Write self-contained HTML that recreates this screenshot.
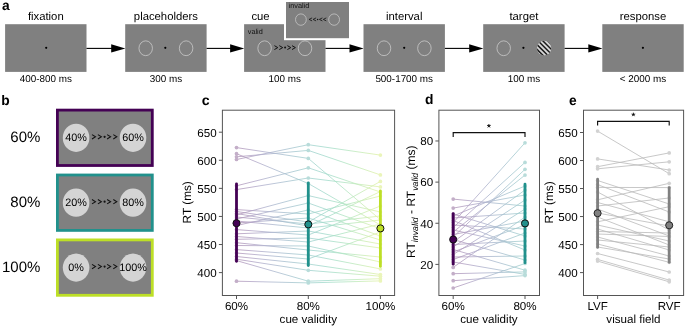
<!DOCTYPE html>
<html><head><meta charset="utf-8"><style>
html,body{margin:0;padding:0;background:#fff;}
body{width:685px;height:327px;overflow:hidden;}
svg{display:block;font-family:"Liberation Sans", sans-serif;will-change:transform;text-rendering:geometricPrecision;}
</style></head><body>
<svg width="685" height="327" viewBox="0 0 685 327">
<rect width="685" height="327" fill="#fff"/>
<text x="2" y="10" font-size="13.8" text-anchor="start" font-weight="bold" fill="#000">a</text>
<rect x="5.1" y="24.2" width="81.4" height="47.7" fill="#808080"/>
<text x="45.8" y="19.6" font-size="11.3" text-anchor="middle" fill="#000">fixation</text>
<text x="45.8" y="82.3" font-size="9.9" text-anchor="middle" fill="#000">400-800 ms</text>
<circle cx="46.2" cy="47.85" r="1.1" fill="#000"/>
<line x1="86.5" y1="48.4" x2="112.2" y2="48.4" stroke="#000" stroke-width="1.1"/>
<polygon points="111.2,44.3 125.4,48.4 111.2,52.5" fill="#000"/>
<rect x="125.2" y="24.2" width="81.4" height="47.7" fill="#808080"/>
<text x="165.9" y="19.6" font-size="11.3" text-anchor="middle" fill="#000">placeholders</text>
<text x="165.9" y="82.3" font-size="9.9" text-anchor="middle" fill="#000">300 ms</text>
<circle cx="165.3" cy="47.85" r="1.1" fill="#000"/>
<ellipse cx="145.7" cy="48.25" rx="6.75" ry="7.4" fill="none" stroke="#cfcfcf" stroke-width="0.75"/>
<ellipse cx="186.1" cy="48.25" rx="6.75" ry="7.4" fill="none" stroke="#cfcfcf" stroke-width="0.75"/>
<line x1="206.6" y1="48.4" x2="231.1" y2="48.4" stroke="#000" stroke-width="1.1"/>
<polygon points="230.1,44.3 244.3,48.4 230.1,52.5" fill="#000"/>
<rect x="244.1" y="24.2" width="81.4" height="47.7" fill="#808080"/>
<text x="260.5" y="19.6" font-size="11.3" text-anchor="middle" fill="#000">cue</text>
<text x="284.8" y="82.3" font-size="9.9" text-anchor="middle" fill="#000">100 ms</text>
<ellipse cx="264.6" cy="48.25" rx="6.75" ry="7.4" fill="none" stroke="#cfcfcf" stroke-width="0.75"/>
<ellipse cx="305.0" cy="48.25" rx="6.75" ry="7.4" fill="none" stroke="#cfcfcf" stroke-width="0.75"/>
<line x1="325.5" y1="48.4" x2="350.5" y2="48.4" stroke="#000" stroke-width="1.1"/>
<polygon points="349.5,44.3 363.7,48.4 349.5,52.5" fill="#000"/>
<rect x="363.5" y="24.2" width="81.4" height="47.7" fill="#808080"/>
<text x="404.2" y="19.6" font-size="11.3" text-anchor="middle" fill="#000">interval</text>
<text x="404.2" y="82.3" font-size="9.9" text-anchor="middle" fill="#000">500-1700 ms</text>
<circle cx="404.2" cy="47.85" r="1.1" fill="#000"/>
<ellipse cx="384.0" cy="48.25" rx="6.75" ry="7.4" fill="none" stroke="#cfcfcf" stroke-width="0.75"/>
<ellipse cx="424.4" cy="48.25" rx="6.75" ry="7.4" fill="none" stroke="#cfcfcf" stroke-width="0.75"/>
<line x1="444.9" y1="48.4" x2="470.2" y2="48.4" stroke="#000" stroke-width="1.1"/>
<polygon points="469.2,44.3 483.4,48.4 469.2,52.5" fill="#000"/>
<rect x="483.2" y="24.2" width="81.4" height="47.7" fill="#808080"/>
<text x="523.9" y="19.6" font-size="11.3" text-anchor="middle" fill="#000">target</text>
<text x="523.9" y="82.3" font-size="9.9" text-anchor="middle" fill="#000">100 ms</text>
<circle cx="523.4" cy="47.85" r="1.1" fill="#000"/>
<ellipse cx="503.7" cy="48.25" rx="6.75" ry="7.4" fill="none" stroke="#cfcfcf" stroke-width="0.75"/>
<clipPath id="gc"><ellipse cx="544.1" cy="48.1" rx="7.2" ry="7.35"/></clipPath>
<g clip-path="url(#gc)"><rect x="536.1" y="40.1" width="16" height="16" fill="#d6d6d6"/>
<line x1="520.30" y1="51.90" x2="540.30" y2="71.90" stroke="#1a1a1a" stroke-width="1.5"/>
<line x1="522.70" y1="49.50" x2="542.70" y2="69.50" stroke="#1a1a1a" stroke-width="1.5"/>
<line x1="525.10" y1="47.10" x2="545.10" y2="67.10" stroke="#1a1a1a" stroke-width="1.5"/>
<line x1="527.50" y1="44.70" x2="547.50" y2="64.70" stroke="#1a1a1a" stroke-width="1.5"/>
<line x1="529.90" y1="42.30" x2="549.90" y2="62.30" stroke="#1a1a1a" stroke-width="1.5"/>
<line x1="532.30" y1="39.90" x2="552.30" y2="59.90" stroke="#1a1a1a" stroke-width="1.5"/>
<line x1="534.70" y1="37.50" x2="554.70" y2="57.50" stroke="#1a1a1a" stroke-width="1.5"/>
<line x1="537.10" y1="35.10" x2="557.10" y2="55.10" stroke="#1a1a1a" stroke-width="1.5"/>
<line x1="539.50" y1="32.70" x2="559.50" y2="52.70" stroke="#1a1a1a" stroke-width="1.5"/>
<line x1="541.90" y1="30.30" x2="561.90" y2="50.30" stroke="#1a1a1a" stroke-width="1.5"/>
<line x1="544.30" y1="27.90" x2="564.30" y2="47.90" stroke="#1a1a1a" stroke-width="1.5"/>
<line x1="546.70" y1="25.50" x2="566.70" y2="45.50" stroke="#1a1a1a" stroke-width="1.5"/>
<line x1="549.10" y1="23.10" x2="569.10" y2="43.10" stroke="#1a1a1a" stroke-width="1.5"/>
</g>
<line x1="564.6" y1="48.4" x2="589.3" y2="48.4" stroke="#000" stroke-width="1.1"/>
<polygon points="588.3,44.3 602.5,48.4 588.3,52.5" fill="#000"/>
<rect x="602.3" y="24.2" width="81.4" height="47.7" fill="#808080"/>
<text x="643.0" y="19.6" font-size="11.3" text-anchor="middle" fill="#000">response</text>
<text x="643.0" y="82.3" font-size="9.9" text-anchor="middle" fill="#000">&lt; 2000 ms</text>
<circle cx="642.9" cy="47.85" r="1.1" fill="#000"/>
<text x="247.8" y="33.5" font-size="7.3" text-anchor="start" fill="#111">valid</text>
<path d="M274.40,45.65L277.80,47.60L274.40,49.55M279.30,45.65L282.70,47.60L279.30,49.55M287.40,45.65L290.80,47.60L287.40,49.55M292.00,45.65L295.40,47.60L292.00,49.55" fill="none" stroke="#111" stroke-width="1.0" stroke-linejoin="miter"/>
<circle cx="285.1" cy="47.6" r="1.0" fill="#111"/>
<rect x="284" y="0" width="67" height="40.2" fill="#fff"/>
<rect x="286" y="2" width="63" height="36.2" fill="#808080"/>
<ellipse cx="300.9" cy="19.6" rx="5.4" ry="5.7" fill="none" stroke="#cfcfcf" stroke-width="0.7"/>
<ellipse cx="334.1" cy="19.6" rx="5.4" ry="5.7" fill="none" stroke="#cfcfcf" stroke-width="0.7"/>
<text x="288.6" y="8.3" font-size="7.3" text-anchor="start" fill="#111">invalid</text>
<path d="M312.10,17.90L309.10,19.40L312.10,20.90M316.10,17.90L313.10,19.40L316.10,20.90M322.40,17.90L319.40,19.40L322.40,20.90M326.30,17.90L323.30,19.40L326.30,20.90" fill="none" stroke="#111" stroke-width="0.8" stroke-linejoin="miter"/>
<circle cx="317.6" cy="19.4" r="0.75" fill="#111"/>
<text x="1.2" y="104.6" font-size="13.8" text-anchor="start" font-weight="bold" fill="#000">b</text>
<rect x="57.4" y="110.1" width="94.9" height="55.4" fill="#808080" stroke="#440154" stroke-width="2.8"/>
<ellipse cx="76.1" cy="137.8" rx="13.3" ry="14.1" fill="#d4d4d4"/>
<ellipse cx="133" cy="137.8" rx="13.3" ry="14.1" fill="#d4d4d4"/>
<text x="76.1" y="140.8" font-size="10.8" text-anchor="middle" fill="#000">40%</text>
<text x="133" y="140.8" font-size="10.8" text-anchor="middle" fill="#000">60%</text>
<path d="M92.00,134.60L95.50,136.80L92.00,139.00M97.90,134.60L101.40,136.80L97.90,139.00M107.10,134.60L110.60,136.80L107.10,139.00M113.30,134.60L116.80,136.80L113.30,139.00" fill="none" stroke="#111" stroke-width="1.05" stroke-linejoin="miter"/>
<circle cx="104.6" cy="136.8" r="1.1" fill="#111"/>
<text x="40.4" y="141.8" font-size="15" text-anchor="end" fill="#000">60%</text>
<rect x="57.4" y="175.0" width="94.9" height="55.4" fill="#808080" stroke="#21918c" stroke-width="2.8"/>
<ellipse cx="76.1" cy="202.7" rx="13.3" ry="14.1" fill="#d4d4d4"/>
<ellipse cx="133" cy="202.7" rx="13.3" ry="14.1" fill="#d4d4d4"/>
<text x="76.1" y="205.7" font-size="10.8" text-anchor="middle" fill="#000">20%</text>
<text x="133" y="205.7" font-size="10.8" text-anchor="middle" fill="#000">80%</text>
<path d="M92.00,199.50L95.50,201.70L92.00,203.90M97.90,199.50L101.40,201.70L97.90,203.90M107.10,199.50L110.60,201.70L107.10,203.90M113.30,199.50L116.80,201.70L113.30,203.90" fill="none" stroke="#111" stroke-width="1.05" stroke-linejoin="miter"/>
<circle cx="104.6" cy="201.7" r="1.1" fill="#111"/>
<text x="40.4" y="206.7" font-size="15" text-anchor="end" fill="#000">80%</text>
<rect x="57.4" y="239.9" width="94.9" height="55.4" fill="#808080" stroke="#bddf26" stroke-width="2.8"/>
<ellipse cx="76.1" cy="267.6" rx="13.3" ry="14.1" fill="#d4d4d4"/>
<ellipse cx="133" cy="267.6" rx="13.3" ry="14.1" fill="#d4d4d4"/>
<text x="76.1" y="270.6" font-size="10.8" text-anchor="middle" fill="#000">0%</text>
<text x="133" y="270.6" font-size="10.8" text-anchor="middle" fill="#000">100%</text>
<path d="M92.00,264.40L95.50,266.60L92.00,268.80M97.90,264.40L101.40,266.60L97.90,268.80M107.10,264.40L110.60,266.60L107.10,268.80M113.30,264.40L116.80,266.60L113.30,268.80" fill="none" stroke="#111" stroke-width="1.05" stroke-linejoin="miter"/>
<circle cx="104.6" cy="266.6" r="1.1" fill="#111"/>
<text x="40.4" y="271.6" font-size="15" text-anchor="end" fill="#000">100%</text>
<defs>
<linearGradient id="g01" gradientUnits="userSpaceOnUse" x1="236.5" y1="0" x2="308.3" y2="0"><stop offset="0" stop-color="#440154"/><stop offset="0.2" stop-color="#482475"/><stop offset="0.4" stop-color="#414487"/><stop offset="0.6" stop-color="#355f8d"/><stop offset="0.8" stop-color="#2a788e"/><stop offset="1" stop-color="#21918c"/></linearGradient>
<linearGradient id="g12" gradientUnits="userSpaceOnUse" x1="308.3" y1="0" x2="380.4" y2="0"><stop offset="0" stop-color="#21918c"/><stop offset="0.25" stop-color="#22a884"/><stop offset="0.5" stop-color="#44bf70"/><stop offset="0.75" stop-color="#7ad151"/><stop offset="1" stop-color="#bddf26"/></linearGradient>
<linearGradient id="gd" gradientUnits="userSpaceOnUse" x1="453.2" y1="0" x2="525" y2="0"><stop offset="0" stop-color="#440154"/><stop offset="0.2" stop-color="#482475"/><stop offset="0.4" stop-color="#414487"/><stop offset="0.6" stop-color="#355f8d"/><stop offset="0.8" stop-color="#2a788e"/><stop offset="1" stop-color="#21918c"/></linearGradient>
</defs>
<text x="201.8" y="104.7" font-size="14.1" text-anchor="start" font-weight="bold" fill="#000">c</text>
<g stroke-width="0.8" opacity="0.42" fill="none">
<line x1="236.5" y1="147.6" x2="308.3" y2="158.4" stroke="url(#g01)"/>
<line x1="308.3" y1="158.4" x2="380.4" y2="219.7" stroke="url(#g12)"/>
<line x1="236.5" y1="159.5" x2="308.3" y2="144.7" stroke="url(#g01)"/>
<line x1="308.3" y1="144.7" x2="380.4" y2="155.1" stroke="url(#g12)"/>
<line x1="236.5" y1="156.8" x2="308.3" y2="150.4" stroke="url(#g01)"/>
<line x1="308.3" y1="150.4" x2="380.4" y2="174.9" stroke="url(#g12)"/>
<line x1="236.5" y1="153.7" x2="308.3" y2="183.5" stroke="url(#g01)"/>
<line x1="308.3" y1="183.5" x2="380.4" y2="225" stroke="url(#g12)"/>
<line x1="236.5" y1="185.8" x2="308.3" y2="167.8" stroke="url(#g01)"/>
<line x1="308.3" y1="167.8" x2="380.4" y2="192" stroke="url(#g12)"/>
<line x1="236.5" y1="189.6" x2="308.3" y2="178" stroke="url(#g01)"/>
<line x1="308.3" y1="178.0" x2="380.4" y2="186.9" stroke="url(#g12)"/>
<line x1="236.5" y1="211.5" x2="308.3" y2="222" stroke="url(#g01)"/>
<line x1="308.3" y1="222" x2="380.4" y2="181.4" stroke="url(#g12)"/>
<line x1="236.5" y1="213.5" x2="308.3" y2="226" stroke="url(#g01)"/>
<line x1="308.3" y1="226" x2="380.4" y2="191.5" stroke="url(#g12)"/>
<line x1="236.5" y1="209.6" x2="308.3" y2="214" stroke="url(#g01)"/>
<line x1="308.3" y1="214" x2="380.4" y2="196" stroke="url(#g12)"/>
<line x1="236.5" y1="214.9" x2="308.3" y2="195.6" stroke="url(#g01)"/>
<line x1="308.3" y1="195.6" x2="380.4" y2="212" stroke="url(#g12)"/>
<line x1="236.5" y1="217" x2="308.3" y2="224" stroke="url(#g01)"/>
<line x1="308.3" y1="224" x2="380.4" y2="216" stroke="url(#g12)"/>
<line x1="236.5" y1="219" x2="308.3" y2="203" stroke="url(#g01)"/>
<line x1="308.3" y1="203" x2="380.4" y2="228.7" stroke="url(#g12)"/>
<line x1="236.5" y1="221" x2="308.3" y2="228" stroke="url(#g01)"/>
<line x1="308.3" y1="228" x2="380.4" y2="220" stroke="url(#g12)"/>
<line x1="236.5" y1="223" x2="308.3" y2="218" stroke="url(#g01)"/>
<line x1="308.3" y1="218" x2="380.4" y2="240" stroke="url(#g12)"/>
<line x1="236.5" y1="225.5" x2="308.3" y2="210" stroke="url(#g01)"/>
<line x1="308.3" y1="210" x2="380.4" y2="236" stroke="url(#g12)"/>
<line x1="236.5" y1="229.6" x2="308.3" y2="235" stroke="url(#g01)"/>
<line x1="308.3" y1="235" x2="380.4" y2="206" stroke="url(#g12)"/>
<line x1="236.5" y1="233.8" x2="308.3" y2="231" stroke="url(#g01)"/>
<line x1="308.3" y1="231" x2="380.4" y2="244" stroke="url(#g12)"/>
<line x1="236.5" y1="236.5" x2="308.3" y2="242" stroke="url(#g01)"/>
<line x1="308.3" y1="242" x2="380.4" y2="224" stroke="url(#g12)"/>
<line x1="236.5" y1="239.3" x2="308.3" y2="238" stroke="url(#g01)"/>
<line x1="308.3" y1="238" x2="380.4" y2="248" stroke="url(#g12)"/>
<line x1="236.5" y1="242.7" x2="308.3" y2="250" stroke="url(#g01)"/>
<line x1="308.3" y1="250" x2="380.4" y2="257" stroke="url(#g12)"/>
<line x1="236.5" y1="245.5" x2="308.3" y2="246" stroke="url(#g01)"/>
<line x1="308.3" y1="246" x2="380.4" y2="262" stroke="url(#g12)"/>
<line x1="236.5" y1="249.6" x2="308.3" y2="255" stroke="url(#g01)"/>
<line x1="308.3" y1="255" x2="380.4" y2="268.9" stroke="url(#g12)"/>
<line x1="236.5" y1="253" x2="308.3" y2="259" stroke="url(#g01)"/>
<line x1="308.3" y1="259" x2="380.4" y2="232" stroke="url(#g12)"/>
<line x1="236.5" y1="256.5" x2="308.3" y2="264" stroke="url(#g01)"/>
<line x1="308.3" y1="264" x2="380.4" y2="274.5" stroke="url(#g12)"/>
<line x1="236.5" y1="259.2" x2="308.3" y2="270.3" stroke="url(#g01)"/>
<line x1="308.3" y1="270.3" x2="380.4" y2="276.2" stroke="url(#g12)"/>
<line x1="236.5" y1="260.6" x2="308.3" y2="281.2" stroke="url(#g01)"/>
<line x1="308.3" y1="281.2" x2="380.4" y2="278.7" stroke="url(#g12)"/>
<line x1="236.5" y1="281.2" x2="308.3" y2="282.9" stroke="url(#g01)"/>
<line x1="308.3" y1="282.9" x2="380.4" y2="280.9" stroke="url(#g12)"/>
</g>
<circle cx="236.5" cy="147.6" r="1.85" fill="#c3aec8"/>
<circle cx="308.3" cy="158.4" r="1.85" fill="#b8dcda"/>
<circle cx="380.4" cy="219.7" r="1.85" fill="#eaf5ba"/>
<circle cx="236.5" cy="159.5" r="1.85" fill="#c3aec8"/>
<circle cx="308.3" cy="144.7" r="1.85" fill="#b8dcda"/>
<circle cx="380.4" cy="155.1" r="1.85" fill="#eaf5ba"/>
<circle cx="236.5" cy="156.8" r="1.85" fill="#c3aec8"/>
<circle cx="308.3" cy="150.4" r="1.85" fill="#b8dcda"/>
<circle cx="380.4" cy="174.9" r="1.85" fill="#eaf5ba"/>
<circle cx="236.5" cy="153.7" r="1.85" fill="#c3aec8"/>
<circle cx="308.3" cy="183.5" r="1.85" fill="#b8dcda"/>
<circle cx="380.4" cy="225" r="1.85" fill="#eaf5ba"/>
<circle cx="236.5" cy="185.8" r="1.85" fill="#c3aec8"/>
<circle cx="308.3" cy="167.8" r="1.85" fill="#b8dcda"/>
<circle cx="380.4" cy="192" r="1.85" fill="#eaf5ba"/>
<circle cx="236.5" cy="189.6" r="1.85" fill="#c3aec8"/>
<circle cx="308.3" cy="178.0" r="1.85" fill="#b8dcda"/>
<circle cx="380.4" cy="186.9" r="1.85" fill="#eaf5ba"/>
<circle cx="236.5" cy="211.5" r="1.85" fill="#c3aec8"/>
<circle cx="308.3" cy="222" r="1.85" fill="#b8dcda"/>
<circle cx="380.4" cy="181.4" r="1.85" fill="#eaf5ba"/>
<circle cx="236.5" cy="213.5" r="1.85" fill="#c3aec8"/>
<circle cx="308.3" cy="226" r="1.85" fill="#b8dcda"/>
<circle cx="380.4" cy="191.5" r="1.85" fill="#eaf5ba"/>
<circle cx="236.5" cy="209.6" r="1.85" fill="#c3aec8"/>
<circle cx="308.3" cy="214" r="1.85" fill="#b8dcda"/>
<circle cx="380.4" cy="196" r="1.85" fill="#eaf5ba"/>
<circle cx="236.5" cy="214.9" r="1.85" fill="#c3aec8"/>
<circle cx="308.3" cy="195.6" r="1.85" fill="#b8dcda"/>
<circle cx="380.4" cy="212" r="1.85" fill="#eaf5ba"/>
<circle cx="236.5" cy="217" r="1.85" fill="#c3aec8"/>
<circle cx="308.3" cy="224" r="1.85" fill="#b8dcda"/>
<circle cx="380.4" cy="216" r="1.85" fill="#eaf5ba"/>
<circle cx="236.5" cy="219" r="1.85" fill="#c3aec8"/>
<circle cx="308.3" cy="203" r="1.85" fill="#b8dcda"/>
<circle cx="380.4" cy="228.7" r="1.85" fill="#eaf5ba"/>
<circle cx="236.5" cy="221" r="1.85" fill="#c3aec8"/>
<circle cx="308.3" cy="228" r="1.85" fill="#b8dcda"/>
<circle cx="380.4" cy="220" r="1.85" fill="#eaf5ba"/>
<circle cx="236.5" cy="223" r="1.85" fill="#c3aec8"/>
<circle cx="308.3" cy="218" r="1.85" fill="#b8dcda"/>
<circle cx="380.4" cy="240" r="1.85" fill="#eaf5ba"/>
<circle cx="236.5" cy="225.5" r="1.85" fill="#c3aec8"/>
<circle cx="308.3" cy="210" r="1.85" fill="#b8dcda"/>
<circle cx="380.4" cy="236" r="1.85" fill="#eaf5ba"/>
<circle cx="236.5" cy="229.6" r="1.85" fill="#c3aec8"/>
<circle cx="308.3" cy="235" r="1.85" fill="#b8dcda"/>
<circle cx="380.4" cy="206" r="1.85" fill="#eaf5ba"/>
<circle cx="236.5" cy="233.8" r="1.85" fill="#c3aec8"/>
<circle cx="308.3" cy="231" r="1.85" fill="#b8dcda"/>
<circle cx="380.4" cy="244" r="1.85" fill="#eaf5ba"/>
<circle cx="236.5" cy="236.5" r="1.85" fill="#c3aec8"/>
<circle cx="308.3" cy="242" r="1.85" fill="#b8dcda"/>
<circle cx="380.4" cy="224" r="1.85" fill="#eaf5ba"/>
<circle cx="236.5" cy="239.3" r="1.85" fill="#c3aec8"/>
<circle cx="308.3" cy="238" r="1.85" fill="#b8dcda"/>
<circle cx="380.4" cy="248" r="1.85" fill="#eaf5ba"/>
<circle cx="236.5" cy="242.7" r="1.85" fill="#c3aec8"/>
<circle cx="308.3" cy="250" r="1.85" fill="#b8dcda"/>
<circle cx="380.4" cy="257" r="1.85" fill="#eaf5ba"/>
<circle cx="236.5" cy="245.5" r="1.85" fill="#c3aec8"/>
<circle cx="308.3" cy="246" r="1.85" fill="#b8dcda"/>
<circle cx="380.4" cy="262" r="1.85" fill="#eaf5ba"/>
<circle cx="236.5" cy="249.6" r="1.85" fill="#c3aec8"/>
<circle cx="308.3" cy="255" r="1.85" fill="#b8dcda"/>
<circle cx="380.4" cy="268.9" r="1.85" fill="#eaf5ba"/>
<circle cx="236.5" cy="253" r="1.85" fill="#c3aec8"/>
<circle cx="308.3" cy="259" r="1.85" fill="#b8dcda"/>
<circle cx="380.4" cy="232" r="1.85" fill="#eaf5ba"/>
<circle cx="236.5" cy="256.5" r="1.85" fill="#c3aec8"/>
<circle cx="308.3" cy="264" r="1.85" fill="#b8dcda"/>
<circle cx="380.4" cy="274.5" r="1.85" fill="#eaf5ba"/>
<circle cx="236.5" cy="259.2" r="1.85" fill="#c3aec8"/>
<circle cx="308.3" cy="270.3" r="1.85" fill="#b8dcda"/>
<circle cx="380.4" cy="276.2" r="1.85" fill="#eaf5ba"/>
<circle cx="236.5" cy="260.6" r="1.85" fill="#c3aec8"/>
<circle cx="308.3" cy="281.2" r="1.85" fill="#b8dcda"/>
<circle cx="380.4" cy="278.7" r="1.85" fill="#eaf5ba"/>
<circle cx="236.5" cy="281.2" r="1.85" fill="#c3aec8"/>
<circle cx="308.3" cy="282.9" r="1.85" fill="#b8dcda"/>
<circle cx="380.4" cy="280.9" r="1.85" fill="#eaf5ba"/>
<line x1="236.5" y1="183.8" x2="236.5" y2="261.3" stroke="#440154" stroke-width="2.8" stroke-linecap="round"/>
<circle cx="236.5" cy="223.2" r="3.55" fill="#440154" stroke="#111" stroke-width="1"/>
<line x1="308.3" y1="182.8" x2="308.3" y2="265.5" stroke="#21918c" stroke-width="2.8" stroke-linecap="round"/>
<circle cx="308.3" cy="224.4" r="3.55" fill="#21918c" stroke="#111" stroke-width="1"/>
<line x1="380.4" y1="191" x2="380.4" y2="266.3" stroke="#bddf26" stroke-width="2.8" stroke-linecap="round"/>
<circle cx="380.4" cy="228.4" r="3.55" fill="#bddf26" stroke="#111" stroke-width="1"/>
<rect x="222.4" y="110.2" width="172.2" height="185.3" fill="none" stroke="#555555" stroke-width="1"/>
<line x1="218.9" y1="272.6" x2="222.4" y2="272.6" stroke="#555555" stroke-width="1"/>
<text x="216.6" y="276.9" font-size="11.6" text-anchor="end" fill="#000">400</text>
<line x1="218.9" y1="244.52" x2="222.4" y2="244.52" stroke="#555555" stroke-width="1"/>
<text x="216.6" y="248.82" font-size="11.6" text-anchor="end" fill="#000">450</text>
<line x1="218.9" y1="216.44" x2="222.4" y2="216.44" stroke="#555555" stroke-width="1"/>
<text x="216.6" y="220.74" font-size="11.6" text-anchor="end" fill="#000">500</text>
<line x1="218.9" y1="188.36" x2="222.4" y2="188.36" stroke="#555555" stroke-width="1"/>
<text x="216.6" y="192.66" font-size="11.6" text-anchor="end" fill="#000">550</text>
<line x1="218.9" y1="160.28" x2="222.4" y2="160.28" stroke="#555555" stroke-width="1"/>
<text x="216.6" y="164.58" font-size="11.6" text-anchor="end" fill="#000">600</text>
<line x1="218.9" y1="132.2" x2="222.4" y2="132.2" stroke="#555555" stroke-width="1"/>
<text x="216.6" y="136.5" font-size="11.6" text-anchor="end" fill="#000">650</text>
<line x1="236.5" y1="295.5" x2="236.5" y2="299.0" stroke="#555555" stroke-width="1"/>
<text x="236.5" y="309.7" font-size="11.6" text-anchor="middle" fill="#000">60%</text>
<line x1="308.3" y1="295.5" x2="308.3" y2="299.0" stroke="#555555" stroke-width="1"/>
<text x="308.3" y="309.7" font-size="11.6" text-anchor="middle" fill="#000">80%</text>
<line x1="380.4" y1="295.5" x2="380.4" y2="299.0" stroke="#555555" stroke-width="1"/>
<text x="380.4" y="309.7" font-size="11.6" text-anchor="middle" fill="#000">100%</text>
<text x="308.3" y="323.3" font-size="11.6" text-anchor="middle" fill="#000">cue validity</text>
<text transform="translate(191.4,202.3) rotate(-90)" font-size="11.8" text-anchor="middle">RT (ms)</text>
<text x="425" y="104.2" font-size="13.8" text-anchor="start" font-weight="bold" fill="#000">d</text>
<g stroke-width="0.8" opacity="0.42" fill="none">
<line x1="453.2" y1="199.1" x2="525" y2="206" stroke="url(#gd)"/>
<line x1="453.2" y1="208.1" x2="525" y2="195" stroke="url(#gd)"/>
<line x1="453.2" y1="214" x2="525" y2="236" stroke="url(#gd)"/>
<line x1="453.2" y1="216" x2="525" y2="186" stroke="url(#gd)"/>
<line x1="453.2" y1="218" x2="525" y2="213" stroke="url(#gd)"/>
<line x1="453.2" y1="220.5" x2="525" y2="250" stroke="url(#gd)"/>
<line x1="453.2" y1="222.6" x2="525" y2="142.8" stroke="url(#gd)"/>
<line x1="453.2" y1="225" x2="525" y2="229" stroke="url(#gd)"/>
<line x1="453.2" y1="227.5" x2="525" y2="162.4" stroke="url(#gd)"/>
<line x1="453.2" y1="230" x2="525" y2="246" stroke="url(#gd)"/>
<line x1="453.2" y1="232" x2="525" y2="175.1" stroke="url(#gd)"/>
<line x1="453.2" y1="234.5" x2="525" y2="221" stroke="url(#gd)"/>
<line x1="453.2" y1="237" x2="525" y2="169.3" stroke="url(#gd)"/>
<line x1="453.2" y1="239.5" x2="525" y2="260" stroke="url(#gd)"/>
<line x1="453.2" y1="242" x2="525" y2="190" stroke="url(#gd)"/>
<line x1="453.2" y1="244.5" x2="525" y2="241" stroke="url(#gd)"/>
<line x1="453.2" y1="247" x2="525" y2="200" stroke="url(#gd)"/>
<line x1="453.2" y1="249.5" x2="525" y2="270.2" stroke="url(#gd)"/>
<line x1="453.2" y1="252" x2="525" y2="225" stroke="url(#gd)"/>
<line x1="453.2" y1="254.5" x2="525" y2="209" stroke="url(#gd)"/>
<line x1="453.2" y1="257" x2="525" y2="256" stroke="url(#gd)"/>
<line x1="453.2" y1="259.5" x2="525" y2="233" stroke="url(#gd)"/>
<line x1="453.2" y1="262" x2="525" y2="274.4" stroke="url(#gd)"/>
<line x1="453.2" y1="267.4" x2="525" y2="217" stroke="url(#gd)"/>
<line x1="453.2" y1="273.7" x2="525" y2="271.9" stroke="url(#gd)"/>
<line x1="453.2" y1="280.7" x2="525" y2="275.6" stroke="url(#gd)"/>
<line x1="453.2" y1="288" x2="525" y2="263.5" stroke="url(#gd)"/>
</g>
<circle cx="453.2" cy="199.1" r="1.85" fill="#c3aec8"/>
<circle cx="525" cy="206" r="1.85" fill="#b8dcda"/>
<circle cx="453.2" cy="208.1" r="1.85" fill="#c3aec8"/>
<circle cx="525" cy="195" r="1.85" fill="#b8dcda"/>
<circle cx="453.2" cy="214" r="1.85" fill="#c3aec8"/>
<circle cx="525" cy="236" r="1.85" fill="#b8dcda"/>
<circle cx="453.2" cy="216" r="1.85" fill="#c3aec8"/>
<circle cx="525" cy="186" r="1.85" fill="#b8dcda"/>
<circle cx="453.2" cy="218" r="1.85" fill="#c3aec8"/>
<circle cx="525" cy="213" r="1.85" fill="#b8dcda"/>
<circle cx="453.2" cy="220.5" r="1.85" fill="#c3aec8"/>
<circle cx="525" cy="250" r="1.85" fill="#b8dcda"/>
<circle cx="453.2" cy="222.6" r="1.85" fill="#c3aec8"/>
<circle cx="525" cy="142.8" r="1.85" fill="#b8dcda"/>
<circle cx="453.2" cy="225" r="1.85" fill="#c3aec8"/>
<circle cx="525" cy="229" r="1.85" fill="#b8dcda"/>
<circle cx="453.2" cy="227.5" r="1.85" fill="#c3aec8"/>
<circle cx="525" cy="162.4" r="1.85" fill="#b8dcda"/>
<circle cx="453.2" cy="230" r="1.85" fill="#c3aec8"/>
<circle cx="525" cy="246" r="1.85" fill="#b8dcda"/>
<circle cx="453.2" cy="232" r="1.85" fill="#c3aec8"/>
<circle cx="525" cy="175.1" r="1.85" fill="#b8dcda"/>
<circle cx="453.2" cy="234.5" r="1.85" fill="#c3aec8"/>
<circle cx="525" cy="221" r="1.85" fill="#b8dcda"/>
<circle cx="453.2" cy="237" r="1.85" fill="#c3aec8"/>
<circle cx="525" cy="169.3" r="1.85" fill="#b8dcda"/>
<circle cx="453.2" cy="239.5" r="1.85" fill="#c3aec8"/>
<circle cx="525" cy="260" r="1.85" fill="#b8dcda"/>
<circle cx="453.2" cy="242" r="1.85" fill="#c3aec8"/>
<circle cx="525" cy="190" r="1.85" fill="#b8dcda"/>
<circle cx="453.2" cy="244.5" r="1.85" fill="#c3aec8"/>
<circle cx="525" cy="241" r="1.85" fill="#b8dcda"/>
<circle cx="453.2" cy="247" r="1.85" fill="#c3aec8"/>
<circle cx="525" cy="200" r="1.85" fill="#b8dcda"/>
<circle cx="453.2" cy="249.5" r="1.85" fill="#c3aec8"/>
<circle cx="525" cy="270.2" r="1.85" fill="#b8dcda"/>
<circle cx="453.2" cy="252" r="1.85" fill="#c3aec8"/>
<circle cx="525" cy="225" r="1.85" fill="#b8dcda"/>
<circle cx="453.2" cy="254.5" r="1.85" fill="#c3aec8"/>
<circle cx="525" cy="209" r="1.85" fill="#b8dcda"/>
<circle cx="453.2" cy="257" r="1.85" fill="#c3aec8"/>
<circle cx="525" cy="256" r="1.85" fill="#b8dcda"/>
<circle cx="453.2" cy="259.5" r="1.85" fill="#c3aec8"/>
<circle cx="525" cy="233" r="1.85" fill="#b8dcda"/>
<circle cx="453.2" cy="262" r="1.85" fill="#c3aec8"/>
<circle cx="525" cy="274.4" r="1.85" fill="#b8dcda"/>
<circle cx="453.2" cy="267.4" r="1.85" fill="#c3aec8"/>
<circle cx="525" cy="217" r="1.85" fill="#b8dcda"/>
<circle cx="453.2" cy="273.7" r="1.85" fill="#c3aec8"/>
<circle cx="525" cy="271.9" r="1.85" fill="#b8dcda"/>
<circle cx="453.2" cy="280.7" r="1.85" fill="#c3aec8"/>
<circle cx="525" cy="275.6" r="1.85" fill="#b8dcda"/>
<circle cx="453.2" cy="288" r="1.85" fill="#c3aec8"/>
<circle cx="525" cy="263.5" r="1.85" fill="#b8dcda"/>
<line x1="453.2" y1="213.6" x2="453.2" y2="264.2" stroke="#440154" stroke-width="2.8" stroke-linecap="round"/>
<circle cx="453.2" cy="239.5" r="3.55" fill="#440154" stroke="#111" stroke-width="1"/>
<line x1="525" y1="184.1" x2="525" y2="262.8" stroke="#21918c" stroke-width="2.8" stroke-linecap="round"/>
<circle cx="525" cy="223.4" r="3.55" fill="#21918c" stroke="#111" stroke-width="1"/>
<rect x="438.9" y="110.2" width="100.6" height="185.3" fill="none" stroke="#555555" stroke-width="1"/>
<line x1="435.4" y1="264.4" x2="438.9" y2="264.4" stroke="#555555" stroke-width="1"/>
<text x="433.1" y="268.7" font-size="11.6" text-anchor="end" fill="#000">20</text>
<line x1="435.4" y1="223.26" x2="438.9" y2="223.26" stroke="#555555" stroke-width="1"/>
<text x="433.1" y="227.56" font-size="11.6" text-anchor="end" fill="#000">40</text>
<line x1="435.4" y1="182.12" x2="438.9" y2="182.12" stroke="#555555" stroke-width="1"/>
<text x="433.1" y="186.42" font-size="11.6" text-anchor="end" fill="#000">60</text>
<line x1="435.4" y1="140.98" x2="438.9" y2="140.98" stroke="#555555" stroke-width="1"/>
<text x="433.1" y="145.28" font-size="11.6" text-anchor="end" fill="#000">80</text>
<line x1="453.2" y1="295.5" x2="453.2" y2="299.0" stroke="#555555" stroke-width="1"/>
<text x="453.2" y="309.7" font-size="11.6" text-anchor="middle" fill="#000">60%</text>
<line x1="525" y1="295.5" x2="525" y2="299.0" stroke="#555555" stroke-width="1"/>
<text x="525" y="309.7" font-size="11.6" text-anchor="middle" fill="#000">80%</text>
<text x="489" y="323.3" font-size="11.6" text-anchor="middle" fill="#000">cue validity</text>
<polyline points="453.2,137 453.2,132.6 525,132.6 525,137" fill="none" stroke="#111" stroke-width="1.15"/>
<path d="M488.90,125.90L488.90,124.40M488.90,125.90L490.33,125.44M488.90,125.90L489.78,127.11M488.90,125.90L488.02,127.11M488.90,125.90L487.47,125.44" stroke="#111" stroke-width="0.95" stroke-linecap="round" fill="none"/>
<text transform="translate(415.2,201.7) rotate(-90)" font-size="12" text-anchor="middle">RT<tspan font-size="8.8" font-style="italic" dy="2.7">invalid</tspan><tspan dy="-2.7"> - RT</tspan><tspan font-size="8.8" font-style="italic" dy="2.7">valid</tspan><tspan dy="-2.7"> (ms)</tspan></text>
<text x="569" y="104.6" font-size="13.8" text-anchor="start" font-weight="bold" fill="#000">e</text>
<g stroke-width="0.8" stroke="#8f8f8f" opacity="0.62" fill="none">
<line x1="597.6" y1="131.1" x2="669.2" y2="173.7"/>
<line x1="597.6" y1="158.9" x2="669.2" y2="170"/>
<line x1="597.6" y1="166.7" x2="669.2" y2="152.9"/>
<line x1="597.6" y1="168.8" x2="669.2" y2="161.8"/>
<line x1="597.6" y1="180.5" x2="669.2" y2="204"/>
<line x1="597.6" y1="184.6" x2="669.2" y2="212"/>
<line x1="597.6" y1="187.4" x2="669.2" y2="187.6"/>
<line x1="597.6" y1="192" x2="669.2" y2="230"/>
<line x1="597.6" y1="199.8" x2="669.2" y2="183.3"/>
<line x1="597.6" y1="202.5" x2="669.2" y2="221.8"/>
<line x1="597.6" y1="206" x2="669.2" y2="198"/>
<line x1="597.6" y1="209" x2="669.2" y2="236"/>
<line x1="597.6" y1="213" x2="669.2" y2="226"/>
<line x1="597.6" y1="217" x2="669.2" y2="245"/>
<line x1="597.6" y1="221.8" x2="669.2" y2="206.7"/>
<line x1="597.6" y1="225" x2="669.2" y2="241"/>
<line x1="597.6" y1="229" x2="669.2" y2="250"/>
<line x1="597.6" y1="231.5" x2="669.2" y2="233"/>
<line x1="597.6" y1="234" x2="669.2" y2="236.5"/>
<line x1="597.6" y1="237" x2="669.2" y2="256"/>
<line x1="597.6" y1="240" x2="669.2" y2="247"/>
<line x1="597.6" y1="244" x2="669.2" y2="262.3"/>
<line x1="597.6" y1="247" x2="669.2" y2="259"/>
<line x1="597.6" y1="253.5" x2="669.2" y2="272"/>
<line x1="597.6" y1="259.4" x2="669.2" y2="280.1"/>
<line x1="597.6" y1="261.1" x2="669.2" y2="281.8"/>
</g>
<circle cx="597.6" cy="131.1" r="1.85" fill="#d2d2d2"/>
<circle cx="669.2" cy="173.7" r="1.85" fill="#d2d2d2"/>
<circle cx="597.6" cy="158.9" r="1.85" fill="#d2d2d2"/>
<circle cx="669.2" cy="170" r="1.85" fill="#d2d2d2"/>
<circle cx="597.6" cy="166.7" r="1.85" fill="#d2d2d2"/>
<circle cx="669.2" cy="152.9" r="1.85" fill="#d2d2d2"/>
<circle cx="597.6" cy="168.8" r="1.85" fill="#d2d2d2"/>
<circle cx="669.2" cy="161.8" r="1.85" fill="#d2d2d2"/>
<circle cx="597.6" cy="180.5" r="1.85" fill="#d2d2d2"/>
<circle cx="669.2" cy="204" r="1.85" fill="#d2d2d2"/>
<circle cx="597.6" cy="184.6" r="1.85" fill="#d2d2d2"/>
<circle cx="669.2" cy="212" r="1.85" fill="#d2d2d2"/>
<circle cx="597.6" cy="187.4" r="1.85" fill="#d2d2d2"/>
<circle cx="669.2" cy="187.6" r="1.85" fill="#d2d2d2"/>
<circle cx="597.6" cy="192" r="1.85" fill="#d2d2d2"/>
<circle cx="669.2" cy="230" r="1.85" fill="#d2d2d2"/>
<circle cx="597.6" cy="199.8" r="1.85" fill="#d2d2d2"/>
<circle cx="669.2" cy="183.3" r="1.85" fill="#d2d2d2"/>
<circle cx="597.6" cy="202.5" r="1.85" fill="#d2d2d2"/>
<circle cx="669.2" cy="221.8" r="1.85" fill="#d2d2d2"/>
<circle cx="597.6" cy="206" r="1.85" fill="#d2d2d2"/>
<circle cx="669.2" cy="198" r="1.85" fill="#d2d2d2"/>
<circle cx="597.6" cy="209" r="1.85" fill="#d2d2d2"/>
<circle cx="669.2" cy="236" r="1.85" fill="#d2d2d2"/>
<circle cx="597.6" cy="213" r="1.85" fill="#d2d2d2"/>
<circle cx="669.2" cy="226" r="1.85" fill="#d2d2d2"/>
<circle cx="597.6" cy="217" r="1.85" fill="#d2d2d2"/>
<circle cx="669.2" cy="245" r="1.85" fill="#d2d2d2"/>
<circle cx="597.6" cy="221.8" r="1.85" fill="#d2d2d2"/>
<circle cx="669.2" cy="206.7" r="1.85" fill="#d2d2d2"/>
<circle cx="597.6" cy="225" r="1.85" fill="#d2d2d2"/>
<circle cx="669.2" cy="241" r="1.85" fill="#d2d2d2"/>
<circle cx="597.6" cy="229" r="1.85" fill="#d2d2d2"/>
<circle cx="669.2" cy="250" r="1.85" fill="#d2d2d2"/>
<circle cx="597.6" cy="231.5" r="1.85" fill="#d2d2d2"/>
<circle cx="669.2" cy="233" r="1.85" fill="#d2d2d2"/>
<circle cx="597.6" cy="234" r="1.85" fill="#d2d2d2"/>
<circle cx="669.2" cy="236.5" r="1.85" fill="#d2d2d2"/>
<circle cx="597.6" cy="237" r="1.85" fill="#d2d2d2"/>
<circle cx="669.2" cy="256" r="1.85" fill="#d2d2d2"/>
<circle cx="597.6" cy="240" r="1.85" fill="#d2d2d2"/>
<circle cx="669.2" cy="247" r="1.85" fill="#d2d2d2"/>
<circle cx="597.6" cy="244" r="1.85" fill="#d2d2d2"/>
<circle cx="669.2" cy="262.3" r="1.85" fill="#d2d2d2"/>
<circle cx="597.6" cy="247" r="1.85" fill="#d2d2d2"/>
<circle cx="669.2" cy="259" r="1.85" fill="#d2d2d2"/>
<circle cx="597.6" cy="253.5" r="1.85" fill="#d2d2d2"/>
<circle cx="669.2" cy="272" r="1.85" fill="#d2d2d2"/>
<circle cx="597.6" cy="259.4" r="1.85" fill="#d2d2d2"/>
<circle cx="669.2" cy="280.1" r="1.85" fill="#d2d2d2"/>
<circle cx="597.6" cy="261.1" r="1.85" fill="#d2d2d2"/>
<circle cx="669.2" cy="281.8" r="1.85" fill="#d2d2d2"/>
<line x1="597.6" y1="179.1" x2="597.6" y2="247.3" stroke="#808080" stroke-width="2.8" stroke-linecap="round"/>
<circle cx="597.6" cy="213.2" r="3.55" fill="#808080" stroke="#222" stroke-width="1"/>
<line x1="669.2" y1="187.6" x2="669.2" y2="262.3" stroke="#808080" stroke-width="2.8" stroke-linecap="round"/>
<circle cx="669.2" cy="225.3" r="3.55" fill="#808080" stroke="#222" stroke-width="1"/>
<rect x="583.5" y="110.2" width="100.1" height="185.3" fill="none" stroke="#555555" stroke-width="1"/>
<line x1="580.0" y1="272.6" x2="583.5" y2="272.6" stroke="#555555" stroke-width="1"/>
<text x="577.7" y="276.9" font-size="11.6" text-anchor="end" fill="#000">400</text>
<line x1="580.0" y1="244.58" x2="583.5" y2="244.58" stroke="#555555" stroke-width="1"/>
<text x="577.7" y="248.88" font-size="11.6" text-anchor="end" fill="#000">450</text>
<line x1="580.0" y1="216.56" x2="583.5" y2="216.56" stroke="#555555" stroke-width="1"/>
<text x="577.7" y="220.86" font-size="11.6" text-anchor="end" fill="#000">500</text>
<line x1="580.0" y1="188.54" x2="583.5" y2="188.54" stroke="#555555" stroke-width="1"/>
<text x="577.7" y="192.84" font-size="11.6" text-anchor="end" fill="#000">550</text>
<line x1="580.0" y1="160.52" x2="583.5" y2="160.52" stroke="#555555" stroke-width="1"/>
<text x="577.7" y="164.82" font-size="11.6" text-anchor="end" fill="#000">600</text>
<line x1="580.0" y1="132.5" x2="583.5" y2="132.5" stroke="#555555" stroke-width="1"/>
<text x="577.7" y="136.8" font-size="11.6" text-anchor="end" fill="#000">650</text>
<line x1="597.6" y1="295.5" x2="597.6" y2="299.0" stroke="#555555" stroke-width="1"/>
<text x="597.6" y="309.7" font-size="11.6" text-anchor="middle" fill="#000">LVF</text>
<line x1="669.2" y1="295.5" x2="669.2" y2="299.0" stroke="#555555" stroke-width="1"/>
<text x="669.2" y="309.7" font-size="11.6" text-anchor="middle" fill="#000">RVF</text>
<text x="633.4" y="323.3" font-size="11.6" text-anchor="middle" fill="#000">visual field</text>
<polyline points="597.6,125.6 597.6,121.4 669.2,121.4 669.2,125.6" fill="none" stroke="#111" stroke-width="1.15"/>
<path d="M633.40,114.60L633.40,113.10M633.40,114.60L634.83,114.14M633.40,114.60L634.28,115.81M633.40,114.60L632.52,115.81M633.40,114.60L631.97,114.14" stroke="#111" stroke-width="0.95" stroke-linecap="round" fill="none"/>
<text transform="translate(553,202.4) rotate(-90)" font-size="11.8" text-anchor="middle">RT (ms)</text>
</svg>
</body></html>
